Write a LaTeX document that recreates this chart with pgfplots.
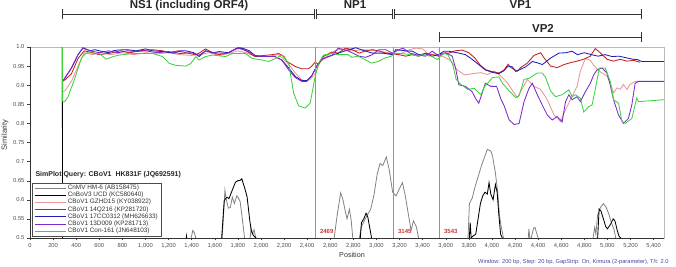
\documentclass[border=0pt]{standalone}
\usepackage{pgfplots}
\pgfplotsset{compat=1.18}
\usepackage{fontspec}
\setmainfont{Liberation Sans}
\definecolor{cgray}{RGB}{130,130,130}
\definecolor{cpink}{RGB}{232,150,150}
\definecolor{cred}{RGB}{200,30,30}
\definecolor{cblue}{RGB}{30,30,185}
\definecolor{cpurple}{RGB}{125,40,205}
\definecolor{cgreen}{RGB}{60,210,60}
\definecolor{cvline}{RGB}{200,125,125}
\definecolor{cfoot}{RGB}{70,70,165}
\begin{document}
\begin{tikzpicture}
\useasboundingbox (0pt,0pt) rectangle (676pt,267pt);
\begin{axis}[
  at={(30pt,29pt)}, anchor=south west, scale only axis,
  width=634pt, height=191pt,
  xmin=0, xmax=5490, ymin=0.5, ymax=1.0,
  clip mode=individual,
  axis line style={draw=gray!55, line width=0.9pt},
  xtick={0,200,...,5400},
  xticklabels={0,200,400,600,800,{1,000},{1,200},{1,400},{1,600},{1,800},{2,000},{2,200},{2,400},{2,600},{2,800},{3,000},{3,200},{3,400},{3,600},{3,800},{4,000},{4,200},{4,400},{4,600},{4,800},{5,000},{5,200},{5,400}},
  ytick={0.5,0.55,0.6,0.65,0.7,0.75,0.8,0.85,0.9,0.95,1.0},
  yticklabels={0.5,0.55,0.6,0.65,0.7,0.75,0.8,0.85,0.9,0.95,1.0},
  minor x tick num=1,
  xtick pos=bottom, ytick pos=left,
  tick align=outside, major tick length=2.5pt, minor tick length=1.5pt,
  every tick/.style={black!75, line width=0.4pt},
  ticklabel style={font=\fontsize{5.8}{7}\selectfont, text=black!70},
  xticklabel style={yshift=1pt},
  yticklabel style={xshift=0.5pt},
  legend style={at={(0.0035,0.288)}, anchor=north west, draw=black!70, line width=0.5pt,
    font=\fontsize{6.4}{7}\selectfont, text=black!80, fill=white,
    inner xsep=2pt, inner ysep=1.2pt, row sep=0.3pt, legend cell align=left,
    nodes={inner ysep=0.4pt, inner xsep=1.5pt}},
  legend image code/.code={\draw[#1] (0pt,0pt) -- (31pt,0pt);},
  every axis plot/.append style={line width=0.85pt},
]
\addplot[cgray, line width=0.8pt] coordinates {(280,1.0)(282,0.45)(1385,0.47)(1395,0.5)(1410,0.52)(1425,0.512)(1435,0.5)(1442,0.47)
(1660,0.48)(1688,0.625)(1700,0.60)(1718,0.578)(1735,0.58)(1752,0.607)(1770,0.59)(1790,0.61)(1800,0.607)(1820,0.595)(1840,0.546)(1858,0.5)(1862,0.47)
(1898,0.48)(1915,0.525)(1925,0.51)(1940,0.522)(1955,0.5)(1960,0.47)
(2625,0.48)(2660,0.56)(2690,0.618)(2710,0.60)(2730,0.57)(2745,0.55)(2765,0.575)(2780,0.55)(2795,0.5)(2800,0.47)
(2840,0.48)(2870,0.53)(2920,0.56)(2950,0.575)(2980,0.615)(3005,0.665)(3030,0.695)(3055,0.69)(3085,0.712)(3110,0.68)(3140,0.62)(3170,0.61)(3200,0.63)(3225,0.645)(3250,0.61)(3280,0.555)(3300,0.52)(3320,0.545)(3345,0.53)(3365,0.5)(3370,0.47)
(3790,0.48)(3805,0.59)(3830,0.605)(3850,0.63)(3880,0.66)(3910,0.69)(3940,0.715)(3960,0.732)(3990,0.728)(4005,0.715)(4030,0.67)(4050,0.62)(4065,0.56)(4080,0.53)(4100,0.5)(4105,0.47)
(4310,0.48)(4320,0.524)(4328,0.5)(4340,0.5)(4360,0.525)(4372,0.528)(4385,0.515)(4400,0.5)(4405,0.47)
(4865,0.48)(4890,0.528)(4900,0.51)(4915,0.56)(4940,0.58)(4965,0.59)(4990,0.58)(5015,0.56)(5040,0.535)(5055,0.525)(5072,0.5)(5078,0.47)(5490,0.45)};
\addlegendentry{CnMV HM-6 (AB158475)}
\addplot[black] coordinates {(280,1.0)(282,0.45)(1345,0.48)(1355,0.505)(1365,0.48)
(1655,0.48)(1682,0.598)(1704,0.607)(1723,0.603)(1751,0.625)(1779,0.646)(1800,0.65)(1820,0.651)(1834,0.655)(1861,0.629)(1880,0.607)(1903,0.546)(1916,0.519)(1936,0.506)(1958,0.5)(1962,0.47)
(2855,0.48)(2870,0.54)(2890,0.55)(2910,0.565)(2925,0.555)(2940,0.53)(2955,0.505)(2965,0.47)
(3800,0.48)(3812,0.54)(3820,0.5)(3835,0.505)(3860,0.51)(3880,0.55)(3900,0.59)(3920,0.61)(3940,0.62)(3960,0.615)(3975,0.645)(3990,0.615)(4010,0.60)(4030,0.64)(4045,0.62)(4060,0.56)(4075,0.51)(4090,0.5)(4095,0.47)
(4912,0.48)(4928,0.576)(4945,0.57)(4965,0.55)(4985,0.53)(5000,0.524)(5025,0.535)(5050,0.55)(5065,0.545)(5085,0.52)(5100,0.505)(5115,0.5)(5120,0.47)(5490,0.45)};
\addlegendentry{CnBoV3 UCD (KC580640)}
\addplot[cpink] coordinates {(283,0.883)(301,0.885)(359,0.91)(416,0.95)(470,0.985)(540,0.98)(620,0.985)(700,0.98)(800,0.985)(900,0.98)(1000,0.985)(1100,0.982)(1200,0.985)(1300,0.98)(1400,0.978)(1464,0.98)(1550,0.985)(1640,0.978)(1720,0.983)(1800,0.99)(1870,0.985)(1950,0.975)(2050,0.975)(2153,0.98)(2240,0.955)(2297,0.932)(2350,0.915)(2383,0.91)(2426,0.915)(2469,0.93)(2512,0.96)(2580,0.978)(2640,0.99)(2700,0.995)(2780,0.99)(2900,0.993)(3000,0.99)(3100,0.985)(3200,0.982)(3290,0.993)(3340,0.997)(3400,0.995)(3455,0.98)(3510,0.982)(3580,0.975)(3640,0.965)(3700,0.94)(3760,0.927)(3830,0.93)(3900,0.933)(3962,0.928)(4020,0.937)(4077,0.924)(4134,0.906)(4192,0.88)(4220,0.867)(4249,0.884)(4307,0.915)(4364,0.897)(4422,0.889)(4479,0.862)(4536,0.823)(4594,0.805)(4623,0.827)(4680,0.862)(4737,0.897)(4766,0.937)(4809,0.97)(4852,0.965)(4881,0.952)(4938,0.935)(4996,0.924)(5024,0.906)(5053,0.88)(5082,0.893)(5110,0.889)(5139,0.902)(5168,0.889)(5196,0.902)(5240,0.91)(5283,0.91)};
\addlegendentry{CBoV1 GZHD15 (KY038922)}
\addplot[cred] coordinates {(283,0.913)(301,0.913)(359,0.93)(416,0.97)(470,0.99)(540,0.985)(600,0.98)(700,0.984)(780,0.99)(860,0.985)(950,0.99)(1060,0.993)(1150,0.99)(1200,0.985)(1280,0.99)(1350,0.985)(1430,0.98)(1464,0.984)(1520,0.995)(1580,0.985)(1640,0.98)(1720,0.985)(1810,1.0)(1870,0.99)(1950,0.975)(2030,0.978)(2100,0.98)(2153,0.983)(2200,0.975)(2225,0.962)(2297,0.949)(2354,0.943)(2412,0.943)(2440,0.95)(2469,0.96)(2498,0.955)(2541,0.975)(2613,0.987)(2670,0.984)(2730,0.997)(2790,0.993)(2850,0.984)(2907,0.99)(2965,0.993)(3020,0.99)(3080,0.984)(3138,0.982)(3195,0.98)(3253,0.976)(3310,0.98)(3368,0.976)(3425,0.984)(3483,0.98)(3540,0.976)(3570,0.984)(3627,0.984)(3680,0.99)(3742,0.992)(3800,0.985)(3850,0.972)(3900,0.952)(3950,0.94)(4010,0.935)(4060,0.932)(4106,0.94)(4140,0.955)(4163,0.946)(4220,0.937)(4249,0.946)(4307,0.958)(4364,0.978)(4422,0.985)(4450,0.972)(4508,0.95)(4565,0.946)(4623,0.954)(4680,0.959)(4737,0.963)(4795,0.968)(4852,0.976)(4895,0.996)(4938,0.985)(4996,0.968)(5053,0.963)(5110,0.968)(5168,0.963)(5225,0.965)(5283,0.96)};
\addlegendentry{CBoV1 14Q216 (KP281720)}
\addplot[cblue] coordinates {(283,0.91)(301,0.918)(359,0.945)(416,0.98)(459,0.998)(520,0.99)(560,0.993)(600,0.99)(680,0.985)(720,0.99)(760,0.992)(840,0.993)(920,0.99)(1000,0.995)(1060,0.99)(1150,0.988)(1250,0.984)(1300,0.99)(1350,0.99)(1420,0.985)(1464,0.975)(1520,0.99)(1580,0.985)(1640,0.988)(1720,0.985)(1780,0.995)(1840,0.997)(1900,0.99)(1950,0.977)(2030,0.975)(2120,0.975)(2180,0.966)(2240,0.945)(2297,0.923)(2354,0.912)(2397,0.912)(2440,0.925)(2483,0.95)(2526,0.968)(2613,0.978)(2699,0.987)(2760,0.993)(2821,0.998)(2907,0.989)(2965,0.984)(3051,0.984)(3138,0.98)(3167,0.993)(3253,0.99)(3310,0.989)(3368,0.98)(3425,0.982)(3483,0.976)(3540,0.98)(3584,0.989)(3627,0.989)(3713,0.984)(3770,0.98)(3814,0.971)(3886,0.954)(3943,0.94)(4001,0.934)(4058,0.93)(4100,0.937)(4140,0.95)(4177,0.948)(4206,0.936)(4250,0.942)(4292,0.948)(4350,0.962)(4400,0.958)(4436,0.954)(4508,0.971)(4580,0.984)(4640,0.985)(4694,0.989)(4740,0.98)(4800,0.985)(4860,0.98)(4920,0.976)(4980,0.98)(5040,0.975)(5100,0.976)(5160,0.972)(5220,0.968)(5260,0.967)(5298,0.962)(5490,0.962)};
\addlegendentry{CBoV1 17CC0312 (MH626633)}
\addplot[cpurple] coordinates {(283,0.91)(301,0.918)(359,0.945)(416,0.98)(459,0.997)(520,0.99)(600,0.985)(680,0.99)(760,0.985)(840,0.99)(920,0.988)(1000,0.99)(1100,0.985)(1200,0.988)(1300,0.983)(1400,0.985)(1464,0.978)(1520,0.99)(1600,0.985)(1700,0.983)(1800,0.997)(1880,0.99)(1950,0.978)(2030,0.975)(2120,0.975)(2180,0.966)(2240,0.94)(2297,0.92)(2354,0.91)(2397,0.91)(2440,0.925)(2483,0.95)(2526,0.968)(2613,0.978)(2670,0.997)(2760,0.989)(2850,0.976)(2907,0.973)(2965,0.98)(3020,0.993)(3080,0.993)(3138,0.984)(3195,0.993)(3230,0.997)(3290,0.984)(3340,0.98)(3425,0.976)(3483,0.989)(3540,0.976)(3600,0.985)(3656,0.976)(3685,0.945)(3713,0.901)(3770,0.897)(3828,0.883)(3857,0.866)(3886,0.853)(3915,0.879)(3943,0.905)(3990,0.897)(4040,0.897)(4077,0.864)(4106,0.846)(4149,0.809)(4192,0.797)(4235,0.8)(4278,0.857)(4321,0.892)(4350,0.905)(4393,0.875)(4436,0.848)(4479,0.822)(4522,0.809)(4565,0.818)(4608,0.804)(4637,0.857)(4666,0.875)(4694,0.862)(4737,0.87)(4766,0.857)(4809,0.883)(4852,0.905)(4881,0.927)(4910,0.94)(4953,0.945)(4996,0.932)(5024,0.901)(5053,0.862)(5096,0.822)(5139,0.8)(5182,0.813)(5211,0.848)(5240,0.905)(5269,0.91)(5490,0.91)};
\addlegendentry{CBoV1 13D009 (KP281713)}
\addplot[cgreen] coordinates {(280,1.0)(283,0.856)(300,0.857)(330,0.87)(388,0.918)(445,0.971)(488,0.985)(600,0.983)(660,0.968)(720,0.975)(775,0.979)(890,0.983)(1062,0.983)(1148,0.975)(1206,0.957)(1263,0.952)(1350,0.95)(1393,0.957)(1436,0.975)(1464,0.966)(1522,0.975)(1579,0.979)(1694,0.975)(1751,0.983)(1866,0.983)(1924,0.97)(2010,0.966)(2067,0.962)(2125,0.97)(2182,0.979)(2240,0.957)(2283,0.879)(2326,0.846)(2383,0.84)(2426,0.853)(2469,0.922)(2498,0.957)(2541,0.979)(2613,0.983)(2670,0.98)(2756,0.98)(2785,0.973)(2842,0.976)(2900,0.967)(2957,0.958)(3015,0.962)(3072,0.971)(3129,0.976)(3158,0.984)(3244,0.982)(3301,0.98)(3359,0.976)(3388,0.98)(3474,0.976)(3531,0.967)(3575,0.984)(3618,0.98)(3660,0.955)(3690,0.915)(3732,0.902)(3790,0.889)(3847,0.892)(3876,0.883)(3905,0.875)(3933,0.895)(3962,0.905)(4005,0.92)(4060,0.922)(4091,0.905)(4149,0.885)(4206,0.868)(4235,0.872)(4278,0.915)(4321,0.918)(4393,0.932)(4436,0.932)(4465,0.92)(4508,0.885)(4551,0.87)(4608,0.875)(4666,0.888)(4694,0.87)(4723,0.875)(4766,0.866)(4795,0.83)(4838,0.844)(4867,0.848)(4895,0.89)(4930,0.945)(4981,0.945)(5024,0.91)(5053,0.862)(5096,0.853)(5125,0.806)(5154,0.8)(5211,0.813)(5254,0.866)(5269,0.857)(5490,0.862)};
\addlegendentry{CBoV1 Con-161 (JN648103)}
% breakpoints
\draw[cvline, line width=0.7pt] (axis cs:2469,0.5) -- (axis cs:2469,1.0);
\draw[cvline, line width=0.7pt] (axis cs:3145,0.5) -- (axis cs:3145,1.0);
\draw[cvline, line width=0.7pt] (axis cs:3543,0.5) -- (axis cs:3543,1.0);
\node[anchor=west, text=cred!90, font=\bfseries\fontsize{6}{7}\selectfont, inner sep=0pt] at (axis cs:2510,0.517) {2469};
\node[anchor=west, text=cred!90, font=\bfseries\fontsize{6}{7}\selectfont, inner sep=0pt] at (axis cs:3186,0.517) {3145};
\node[anchor=west, text=cred!90, font=\bfseries\fontsize{6}{7}\selectfont, inner sep=0pt] at (axis cs:3584,0.517) {3543};
% frame left and bottom in black
\draw[black!80, line width=0.6pt] (rel axis cs:0,1) -- (rel axis cs:0,0) -- (rel axis cs:1,0);
% gene brackets
\draw[black!80, line width=0.9pt] (axis cs:284,1.085) -- (axis cs:2461,1.085);
\draw[black!80, line width=0.9pt] (axis cs:284,1.072) -- (axis cs:284,1.099);
\draw[black!80, line width=0.9pt] (axis cs:2461,1.072) -- (axis cs:2461,1.099);
\draw[black!80, line width=0.9pt] (axis cs:2483,1.085) -- (axis cs:3138,1.085);
\draw[black!80, line width=0.9pt] (axis cs:2483,1.072) -- (axis cs:2483,1.099);
\draw[black!80, line width=0.9pt] (axis cs:3138,1.072) -- (axis cs:3138,1.099);
\draw[black!80, line width=0.9pt] (axis cs:3160,1.085) -- (axis cs:5297,1.085);
\draw[black!80, line width=0.9pt] (axis cs:3160,1.072) -- (axis cs:3160,1.099);
\draw[black!80, line width=0.9pt] (axis cs:5297,1.072) -- (axis cs:5297,1.099);
\draw[black!80, line width=0.9pt] (axis cs:3543,1.025) -- (axis cs:5297,1.025);
\draw[black!80, line width=0.9pt] (axis cs:3543,1.012) -- (axis cs:3543,1.040);
\draw[black!80, line width=0.9pt] (axis cs:5297,1.012) -- (axis cs:5297,1.040);
\node[anchor=base, inner sep=0pt, font=\bfseries\fontsize{11.5}{13}\selectfont, text=black!85] at (axis cs:1377,1.1) {NS1 (including ORF4)};
\node[anchor=base, inner sep=0pt, font=\bfseries\fontsize{11.5}{13}\selectfont, text=black!85] at (axis cs:2814,1.1) {NP1};
\node[anchor=base, inner sep=0pt, font=\bfseries\fontsize{11.5}{13}\selectfont, text=black!85] at (axis cs:4247,1.1) {VP1};
\node[anchor=base, inner sep=0pt, font=\bfseries\fontsize{11.5}{13}\selectfont, text=black!85] at (axis cs:4442,1.037) {VP2};
\end{axis}
\node[anchor=west, font=\bfseries\fontsize{7}{8}\selectfont, text=black!85] at (32pt,92pt) {SimPlot Query: CBoV1\ \ HK831F (JQ692591)};
\node[rotate=90, font=\fontsize{7.5}{8}\selectfont, text=black!80] at (5pt,132pt) {Similarity};
\node[font=\fontsize{7.2}{8}\selectfont, text=black!80] at (352pt,12pt) {Position};
\node[anchor=east, font=\fontsize{5.7}{6.5}\selectfont, text=cfoot] at (672pt,5pt) {Window: 200 bp, Step: 20 bp, GapStrip: On, Kimura (2-parameter), T/t: 2.0};
\end{tikzpicture}
\end{document}
